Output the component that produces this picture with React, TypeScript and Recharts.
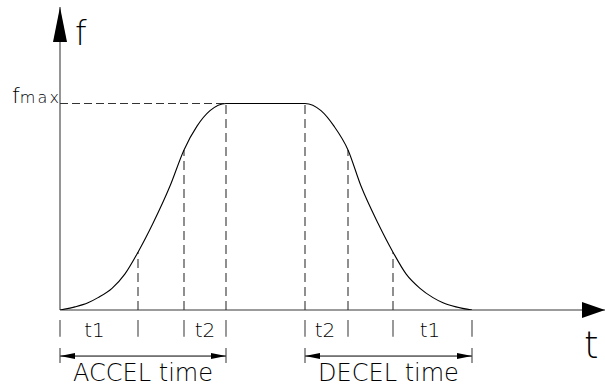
import { LineChart, Line, XAxis, YAxis, ReferenceLine, ReferenceDot } from 'recharts';

// S-curve profile (t: time units, f: % of fmax)
const curveT = [0, 15, 28, 38, 52, 65, 78, 93, 110, 124, 137, 150, 166, 245, 261, 274, 288, 301, 318, 333, 346, 360, 373, 383, 396, 412];
const curveF = [0, 1.5, 3.5, 6, 10.5, 17.5, 28, 42, 60, 77.5, 89, 96.5, 100, 100, 96.5, 89, 77.5, 60, 42, 28, 17.5, 10.5, 6, 3.5, 1.5, 0];

const F_MAX = 100;
const T_MAX = 545;
const F_TOP = 146.7;

// dashed drop lines and the little ticks under the time axis
const markT = [78, 124, 166, 245, 288, 333];
const tickT = [0, 78, 124, 166, 245, 288, 333, 412];

const phaseNames = ['t1', 't2', 't2', 't1'];
const phaseT = [34.5, 145, 265, 370];

const spanNames = ['ACCEL time', 'DECEL time'];
const spanFrom = [0, 245];
const spanTo = [166, 412];

// rows below the axis, in f units
const TICK_Y = [-4.8, -13];
const PHASE_Y = -13.1;
const SPAN_Y = -22.3;
const SPAN_TICK_Y = [-18.4, -25.7];
const SPAN_TEXT_Y = -34.4;

const data = curveT.map((t, i) => ({ t, f: curveF[i] }));
const fAt = (t: number) => curveF[curveT.indexOf(t)];

const FONT = "'DejaVu Sans', sans-serif";
const AXIS = '#7a7a7a';
const DASH = '#333';

const upArrow = ({ cx, cy }: any) => (
  <path d={`M${cx},${cy} L${cx - 7},${cy + 35} L${cx + 7},${cy + 35} Z`} fill="#000" />
);
const rightArrow = ({ cx, cy }: any) => (
  <path d={`M${cx},${cy} L${cx - 23},${cy - 8} L${cx - 23},${cy + 8} Z`} fill="#000" />
);
const headLeft = ({ cx, cy }: any) => (
  <path d={`M${cx},${cy} L${cx + 15},${cy - 3} L${cx + 15},${cy + 3} Z`} fill="#000" />
);
const headRight = ({ cx, cy }: any) => (
  <path d={`M${cx},${cy} L${cx - 15},${cy - 3} L${cx - 15},${cy + 3} Z`} fill="#000" />
);

const textShape = (text: string, size: number, anchor = 'middle') => ({ cx, cy }: any) => (
  <text x={cx} y={cy} textAnchor={anchor} fontSize={size} fontFamily={FONT} fontWeight={200} fill="#000">
    {text}
  </text>
);

const fmaxShape = ({ cx, cy }: any) => (
  <text x={cx} y={cy} fontFamily={FONT} fontWeight={200} fill="#000">
    <tspan fontSize={22}>f</tspan>
    <tspan fontSize={16} letterSpacing={2.2}>max</tspan>
  </text>
);

export default function App() {
  return (
    <div style={{ position: 'absolute', left: 0, top: 0, background: '#fff' }}>
      <LineChart width={605} height={387} data={data} margin={{ top: 7, right: 0, bottom: 77, left: 60 }}>
        <XAxis type="number" dataKey="t" domain={[0, T_MAX]} allowDataOverflow hide />
        <YAxis type="number" domain={[0, F_TOP]} allowDataOverflow hide />

        {/* axes */}
        <ReferenceLine segment={[{ x: 0, y: 0 }, { x: T_MAX, y: 0 }]} stroke={AXIS} strokeWidth={1.6} ifOverflow="visible" />
        <ReferenceLine segment={[{ x: 0, y: 0 }, { x: 0, y: F_TOP }]} stroke={AXIS} strokeWidth={1.6} ifOverflow="visible" />
        <ReferenceDot x={0} y={F_TOP} shape={upArrow} ifOverflow="visible" />
        <ReferenceDot x={T_MAX} y={0} shape={rightArrow} ifOverflow="visible" />
        <ReferenceDot x={15} y={128.3} shape={textShape('f', 33, 'start')} ifOverflow="visible" />
        <ReferenceDot x={524} y={-23.2} shape={textShape('t', 37, 'start')} ifOverflow="visible" />
        <ReferenceDot x={-48} y={F_MAX} shape={fmaxShape} ifOverflow="visible" />

        {/* fmax guide + drop lines */}
        <ReferenceLine segment={[{ x: 0, y: F_MAX }, { x: 166, y: F_MAX }]} stroke={DASH} strokeWidth={1.1} strokeDasharray="8 4" ifOverflow="visible" />
        {markT.map((t) => (
          <ReferenceLine key={`m${t}`} segment={[{ x: t, y: 0 }, { x: t, y: fAt(t) }]} stroke={DASH} strokeWidth={1.1} strokeDasharray="9 5" ifOverflow="visible" />
        ))}

        {/* ticks and phase names under the axis */}
        {tickT.map((t) => (
          <ReferenceLine key={`k${t}`} segment={[{ x: t, y: TICK_Y[0] }, { x: t, y: TICK_Y[1] }]} stroke="#444" strokeWidth={1.1} ifOverflow="visible" />
        ))}
        {phaseNames.map((n, i) => (
          <ReferenceDot key={`p${i}`} x={phaseT[i]} y={PHASE_Y} shape={textShape(n, 20)} ifOverflow="visible" />
        ))}

        {/* ACCEL / DECEL spans */}
        {spanNames.map((n, i) => [
          <ReferenceLine key={`s${i}`} segment={[{ x: spanFrom[i], y: SPAN_Y }, { x: spanTo[i], y: SPAN_Y }]} stroke="#000" strokeWidth={1} ifOverflow="visible" />,
          <ReferenceLine key={`sa${i}`} segment={[{ x: spanFrom[i], y: SPAN_TICK_Y[0] }, { x: spanFrom[i], y: SPAN_TICK_Y[1] }]} stroke="#444" strokeWidth={1.1} ifOverflow="visible" />,
          <ReferenceLine key={`sb${i}`} segment={[{ x: spanTo[i], y: SPAN_TICK_Y[0] }, { x: spanTo[i], y: SPAN_TICK_Y[1] }]} stroke="#444" strokeWidth={1.1} ifOverflow="visible" />,
          <ReferenceDot key={`hl${i}`} x={spanFrom[i]} y={SPAN_Y} shape={headLeft} ifOverflow="visible" />,
          <ReferenceDot key={`hr${i}`} x={spanTo[i]} y={SPAN_Y} shape={headRight} ifOverflow="visible" />,
          <ReferenceDot key={`st${i}`} x={(spanFrom[i] + spanTo[i]) / 2} y={SPAN_TEXT_Y} shape={textShape(n, 24)} ifOverflow="visible" />,
        ])}

        <Line type="monotone" dataKey="f" stroke="#000" strokeWidth={1.1} dot={false} isAnimationActive={false} />
      </LineChart>
    </div>
  );
}
